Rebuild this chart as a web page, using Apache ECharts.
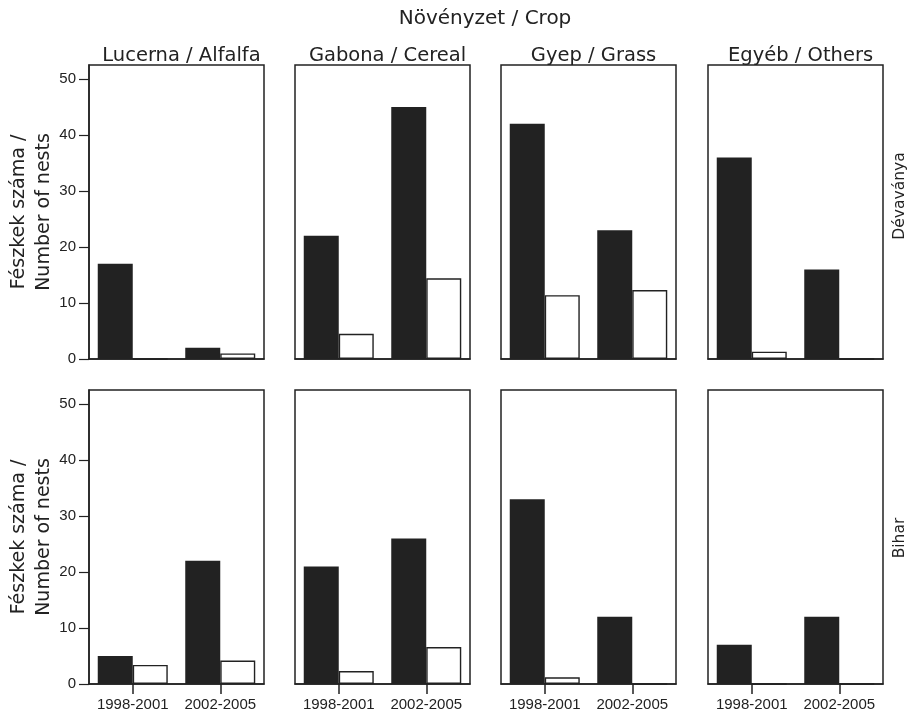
<!DOCTYPE html>
<html>
<head>
<meta charset="utf-8">
<script src="https://cdn.jsdelivr.net/npm/echarts@6/dist/echarts.min.js"></script>
<style>html,body{margin:0;padding:0;background:#fff}#c{width:920px;height:717px}</style>
</head>
<body>
<div id="c"></div>
<script>
const periods = ['1998-2001', '2002-2005'];
const crops = ['Lucerna / Alfalfa', 'Gabona / Cereal', 'Gyep / Grass', 'Egyéb / Others'];
const regions = ['Dévaványa', 'Bihar'];
const yTicks = [0, 10, 20, 30, 40, 50];
// black (filled) bars, per crop, per period
const devFilled = [[17, 2], [22, 45], [42, 23], [36, 16]];
const devOpen   = [[0, 1], [4.5, 14.4], [11.4, 12.3], [1.3, 0]];
const bihFilled = [[5, 22], [21, 26], [33, 12], [7, 12]];
const bihOpen   = [[3.4, 4.2], [2.3, 6.6], [1.2, 0], [0, 0]];

const FONT = 'Liberation Sans, Arial, sans-serif';
const WFONT = '"DejaVu Sans", sans-serif';
const TXT = '#222';
const lefts = [89, 295, 501, 708];
const tops = [65, 390];
const W = 175, H = 294;

const grids = [], xAxes = [], yAxes = [], series = [];
const rows = [[devFilled, devOpen], [bihFilled, bihOpen]];
let gi = 0;
for (let r = 0; r < 2; r++) {
  for (let c = 0; c < 4; c++) {
    grids.push({left: lefts[c], top: tops[r], width: W, height: H, show: true,
      borderColor: '#222', borderWidth: 1.5, backgroundColor: '#fff', containLabel: false});
    xAxes.push({type: 'category', gridIndex: gi, data: periods, boundaryGap: true,
      axisLine: {show: true, lineStyle: {color: '#222', width: 1.5}},
      axisTick: {show: r === 1, alignWithLabel: true, interval: 0, length: 10, lineStyle: {color: '#222', width: 1.5}},
      axisLabel: {show: r === 1, interval: 0, color: TXT, fontSize: 15, fontFamily: FONT, margin: 13}});
    yAxes.push({type: 'value', gridIndex: gi, min: 0, max: 52.5, interval: 10,
      splitLine: {show: false},
      axisLine: {show: c === 0, lineStyle: {color: '#222', width: 1.5}},
      axisTick: {show: c === 0, length: 10, customValues: yTicks, lineStyle: {color: '#222', width: 1.2}},
      axisLabel: {show: c === 0, customValues: yTicks, color: TXT, fontSize: 15, fontFamily: FONT, margin: 13}});
    series.push({type: 'bar', xAxisIndex: gi, yAxisIndex: gi, data: rows[r][0][c],
      barWidth: '40%', barGap: '0%', itemStyle: {color: '#222'}, silent: true, animation: false});
    series.push({type: 'bar', xAxisIndex: gi, yAxisIndex: gi, data: rows[r][1][c],
      barWidth: '40%', barGap: '0%', itemStyle: {color: '#fff', borderColor: '#222', borderWidth: 1.4},
      silent: true, animation: false});
    gi++;
  }
}

const titles = [{text: 'Növényzet / Crop', left: 480, top: 4, textAlign: 'center',
  textStyle: {fontSize: 20, fontWeight: 'normal', color: TXT, fontFamily: WFONT}}];
crops.forEach((t, c) => titles.push({text: t, left: lefts[c] + W / 2, top: 41, textAlign: 'center',
  textStyle: {fontSize: 19.5, fontWeight: 'normal', color: TXT, fontFamily: WFONT}}));

const graphics = [];
tops.forEach((t, r) => {
  graphics.push({type: 'text', x: 32, y: t + H / 2, rotation: Math.PI / 2,
    style: {text: 'Fészkek száma /\nNumber of nests', fill: TXT, font: '19px ' + WFONT,
      textAlign: 'center', textVerticalAlign: 'middle', lineHeight: 25}});
  graphics.push({type: 'text', x: 900, y: r === 0 ? 196 : 538, rotation: Math.PI / 2,
    style: {text: regions[r], fill: TXT, font: '15.5px ' + WFONT, textAlign: 'center', textVerticalAlign: 'middle'}});
});

const chart = echarts.init(document.getElementById('c'));
chart.setOption({animation: false, title: titles, grid: grids, xAxis: xAxes, yAxis: yAxes,
  series: series, graphic: graphics});
</script>
</body>
</html>
